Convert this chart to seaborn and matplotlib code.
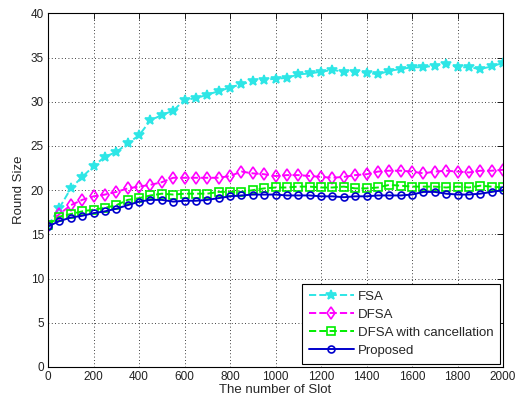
import numpy as np
import pandas as pd
import matplotlib
matplotlib.use("Agg")
import matplotlib.pyplot as plt
import seaborn as sns

# ---- data (one point every 50 slots) ----
slots = list(range(0, 2001, 50))

fsa = [16.0, 18.0, 20.2, 21.5, 22.7, 23.8, 24.3, 25.3, 26.2, 27.9,
       28.5, 29.0, 30.2, 30.4, 30.8, 31.2, 31.6, 32.0, 32.3, 32.5,
       32.6, 32.7, 33.1, 33.2, 33.4, 33.6, 33.4, 33.4, 33.3, 33.1,
       33.5, 33.7, 33.9, 33.9, 34.1, 34.3, 33.9, 33.9, 33.7, 34.0,
       34.4]

dfsa = [16.0, 17.3, 18.3, 18.9, 19.3, 19.5, 19.8, 20.2, 20.4, 20.6,
        20.9, 21.4, 21.4, 21.4, 21.4, 21.4, 21.6, 22.1, 21.9, 21.8,
        21.6, 21.7, 21.7, 21.6, 21.5, 21.4, 21.5, 21.7, 21.8, 22.1,
        22.2, 22.2, 22.1, 21.9, 22.1, 22.2, 22.1, 22.0, 22.2, 22.2,
        22.3]

dfsa_cancel = [16.1, 17.0, 17.3, 17.6, 17.8, 18.0, 18.3, 18.9, 19.1, 19.4,
               19.6, 19.5, 19.6, 19.6, 19.6, 19.8, 19.8, 19.8, 20.0, 20.2,
               20.3, 20.3, 20.4, 20.4, 20.3, 20.3, 20.4, 20.2, 20.2, 20.3,
               20.6, 20.5, 20.4, 20.4, 20.4, 20.3, 20.4, 20.3, 20.5, 20.4,
               20.3]

proposed = [15.9, 16.5, 16.9, 17.1, 17.4, 17.6, 17.9, 18.3, 18.7, 18.9,
            18.9, 18.7, 18.8, 18.8, 18.9, 19.1, 19.3, 19.4, 19.5, 19.5,
            19.5, 19.4, 19.4, 19.4, 19.3, 19.3, 19.2, 19.3, 19.3, 19.4,
            19.4, 19.4, 19.5, 19.8, 19.8, 19.6, 19.5, 19.5, 19.6, 19.8,
            20.0]

x_ticks = list(range(0, 2001, 200))
y_ticks = list(range(0, 41, 5))

sns.set_style("white")
plt.rcParams['font.family'] = ['Liberation Sans', 'DejaVu Sans']

fig = plt.figure(figsize=(5.17, 4.05), dpi=100)
ax = fig.add_axes([0.093, 0.094, 0.880, 0.873])

# series: (values, label, colour, marker, linestyle, marker size, filled)
series = [
    (fsa, "FSA", "#2ee6e6", "*", "--", 7.5, True),
    (dfsa, "DFSA", "#ff00ff", "d", "--", 6, False),
    (dfsa_cancel, "DFSA with cancellation", "#00ee00", "s", "--", 5.5, False),
    (proposed, "Proposed", "#0000cc", "o", "-", 5, False),
]

for vals, name, col, mk, ls, ms, filled in series:
    sns.lineplot(x=slots, y=vals, ax=ax, color=col, marker=mk,
                 linestyle=ls, linewidth=1.4, markersize=ms,
                 markerfacecolor=col if filled else "none",
                 markeredgecolor=col, markeredgewidth=1.2, label=name)

ax.set_xlim(0, 2000)
ax.set_ylim(0, 40)
ax.set_xticks(x_ticks)
ax.set_yticks(y_ticks)
ax.grid(True, color="black", linestyle=(0, (1, 3)), linewidth=0.6)
for s in ax.spines.values():
    s.set_color("black")
    s.set_linewidth(0.8)
ax.tick_params(direction="in", length=4, width=0.6, labelsize=8.5,
               top=True, right=True, colors="black", pad=3)
ax.tick_params(labelcolor="#222222")
ax.set_xlabel("The number of Slot", fontsize=9.5, labelpad=1)
ax.set_ylabel("Round Size", fontsize=9.5, labelpad=4)

leg = ax.legend(loc="lower right", fontsize=9.5, frameon=True,
                fancybox=False, framealpha=1, edgecolor="black",
                handlelength=3.4, handletextpad=0.3, labelspacing=0.45,
                borderpad=0.5, borderaxespad=0.25)
leg.get_frame().set_linewidth(0.8)

fig.savefig("out.png", dpi=100)
